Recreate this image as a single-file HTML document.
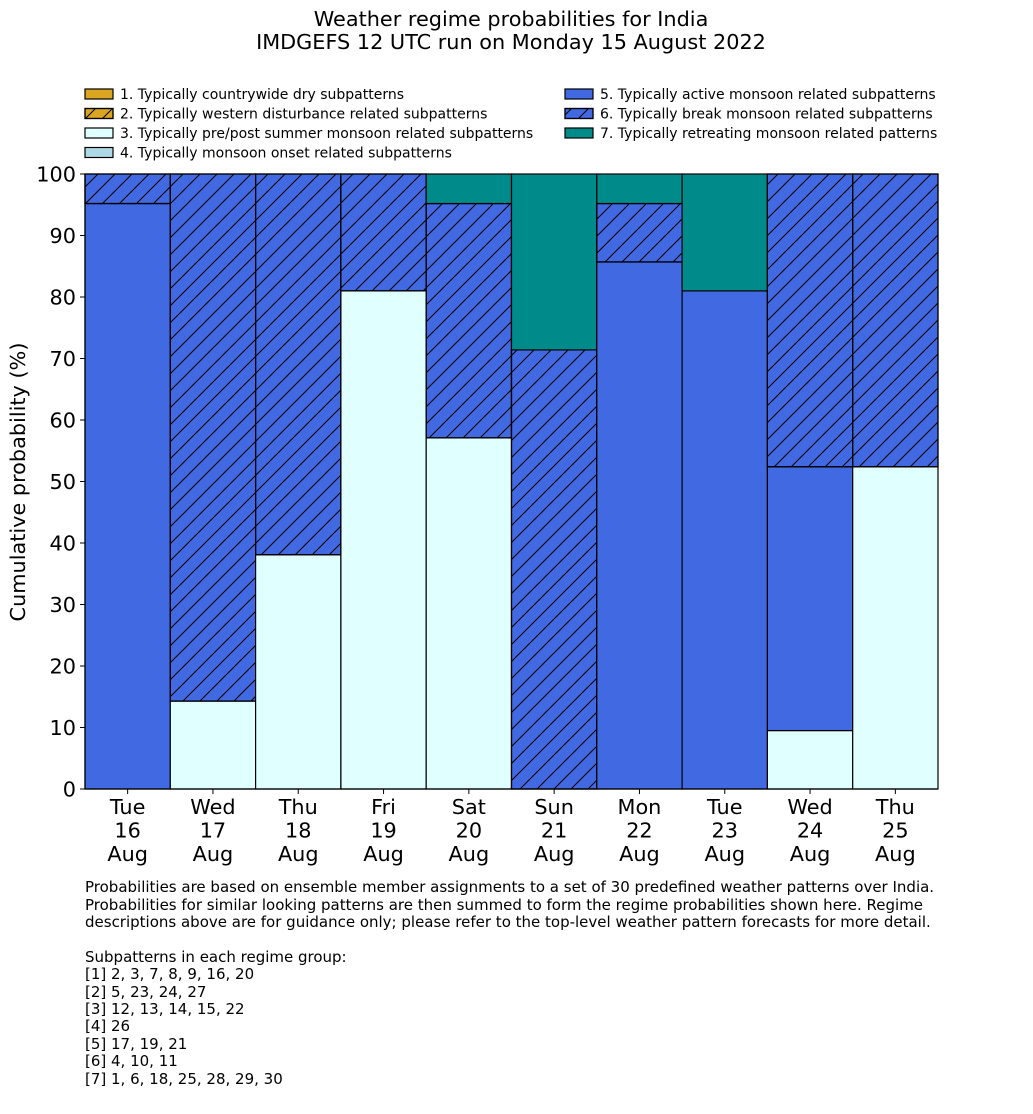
<!DOCTYPE html>
<html><head><meta charset="utf-8"><style>
body{margin:0;background:#fff}
svg{display:block;font-family:"DejaVu Sans","Liberation Sans",sans-serif}
</style></head><body>
<svg id="chart" width="1033" height="1114" viewBox="0 0 1033 1114" xmlns="http://www.w3.org/2000/svg">
<defs>
<pattern id="hatch" patternUnits="userSpaceOnUse" width="17" height="17">
<path d="M-4,4 L4,-4 M0,17 L17,0 M13,21 L21,13" stroke="#000" stroke-width="1"/>
</pattern>
</defs>
<text x="511" y="26" text-anchor="middle" font-size="20.8">Weather regime probabilities for India</text>
<text x="511" y="49" text-anchor="middle" font-size="20.8">IMDGEFS 12 UTC run on Monday 15 August 2022</text>
<g id="legend"></g>
<g id="bars"></g>
<g id="axes"></g>
<text transform="translate(25,482) rotate(-90)" text-anchor="middle" font-size="20.8">Cumulative probability (%)</text>
<g font-size="15">
<text x="85" y="892">Probabilities are based on ensemble member assignments to a set of 30 predefined weather patterns over India.</text>
<text x="85" y="910">Probabilities for similar looking patterns are then summed to form the regime probabilities shown here. Regime</text>
<text x="85" y="927">descriptions above are for guidance only; please refer to the top-level weather pattern forecasts for more detail.</text>
<text x="85" y="962">Subpatterns in each regime group:</text>
<text x="85" y="979">[1] 2, 3, 7, 8, 9, 16, 20</text>
<text x="85" y="997">[2] 5, 23, 24, 27</text>
<text x="85" y="1014">[3] 12, 13, 14, 15, 22</text>
<text x="85" y="1031">[4] 26</text>
<text x="85" y="1049">[5] 17, 19, 21</text>
<text x="85" y="1066">[6] 4, 10, 11</text>
<text x="85" y="1084">[7] 1, 6, 18, 25, 28, 29, 30</text>
</g>
</svg>
<script>
const days = ["Tue|16|Aug","Wed|17|Aug","Thu|18|Aug","Fri|19|Aug","Sat|20|Aug","Sun|21|Aug","Mon|22|Aug","Tue|23|Aug","Wed|24|Aug","Thu|25|Aug"];
const regime1 = [0,0,0,0,0,0,0,0,0,0];
const regime2 = [0,0,0,0,0,0,0,0,0,0];
const regime3 = [0,14.3,38.1,81.0,57.1,0,0,0,9.5,52.4];
const regime4 = [0,0,0,0,0,0,0,0,0,0];
const regime5 = [95.2,0,0,0,0,0,85.7,81.0,42.9,0];
const regime6 = [4.8,85.7,61.9,19.0,38.1,71.4,9.5,0,47.6,47.6];
const regime7 = [0,0,0,0,4.8,28.6,4.8,19.0,0,0];
const yTicks = [0,10,20,30,40,50,60,70,80,90,100];
const legendLabels = ["1. Typically countrywide dry subpatterns","2. Typically western disturbance related subpatterns","3. Typically pre/post summer monsoon related subpatterns","4. Typically monsoon onset related subpatterns","5. Typically active monsoon related subpatterns","6. Typically break monsoon related subpatterns","7. Typically retreating monsoon related patterns"];

const NS="http://www.w3.org/2000/svg";
const series=[regime1,regime2,regime3,regime4,regime5,regime6,regime7];
const colors=["#DAA520","#DAA520","#E0FFFF","#ADD8E6","#4169E1","#4169E1","#008B8B"];
const hatched=[false,true,false,false,false,true,false];
const X0=85,X1=938,Y0=789,Y1=174;
const bw=(X1-X0)/days.length;
const y=v=>Y0-(Y0-Y1)*v/100;
const x=i=>X0+i*bw;
function mk(tag,attrs,parent){const e=document.createElementNS(NS,tag);for(const k in attrs)e.setAttribute(k,attrs[k]);parent.appendChild(e);return e;}
const bars=document.getElementById('bars');
days.forEach((d,i)=>{
  let cum=0;
  series.forEach((s,k)=>{
    const v=s[i]; if(v<=0)return;
    const top=y(cum+v), bot=y(cum);
    const r=mk('rect',{x:x(i),y:top,width:bw,height:bot-top,fill:colors[k],stroke:'#000','stroke-width':1.2},bars);
    
    
    if(hatched[k]){
      const h=mk('rect',{x:x(i),y:top,width:bw,height:bot-top,fill:'url(#hatch)',stroke:'#000','stroke-width':1.2},bars);
      
      
    }
    cum+=v;
  });
});
const axes=document.getElementById('axes');
mk('line',{x1:X0,y1:Y1,x2:X0,y2:Y0,stroke:'#000','stroke-width':1.2},axes);
mk('line',{x1:X0,y1:Y0,x2:X1,y2:Y0,stroke:'#000','stroke-width':1.2},axes);
yTicks.forEach(t=>{
  mk('line',{x1:X0-5,y1:y(t),x2:X0,y2:y(t),stroke:'#000','stroke-width':1},axes);
  const tx=mk('text',{x:X0-9,y:y(t)+7.5,'text-anchor':'end','font-size':20.8},axes);
  tx.textContent=t;
  
  
});
days.forEach((d,i)=>{
  const cx=x(i)+bw/2;
  mk('line',{x1:cx,y1:Y0,x2:cx,y2:Y0+5,stroke:'#000','stroke-width':1},axes);
  d.split('|').forEach((p,j)=>{
    const tx=mk('text',{x:cx,y:814+j*23.5,'text-anchor':'middle','font-size':20.8},axes);
    tx.textContent=p;
    
    
  });
});
const lg=document.getElementById('legend');
legendLabels.forEach((l,k)=>{
  const col=k<4?0:1, row=k<4?k:k-4;
  const lx=col?565:85, ly=89+row*19.5;
  mk('rect',{x:lx,y:ly,width:28,height:10,fill:colors[k],stroke:'#000','stroke-width':1.2},lg);
  if(hatched[k]) mk('rect',{x:lx,y:ly,width:28,height:10,fill:'url(#hatch)',stroke:'#000','stroke-width':1.2},lg);
  const tx=mk('text',{x:lx+35,y:ly+10,'font-size':14},lg);
  tx.textContent=l;
  
  
});
</script>
</body></html>
